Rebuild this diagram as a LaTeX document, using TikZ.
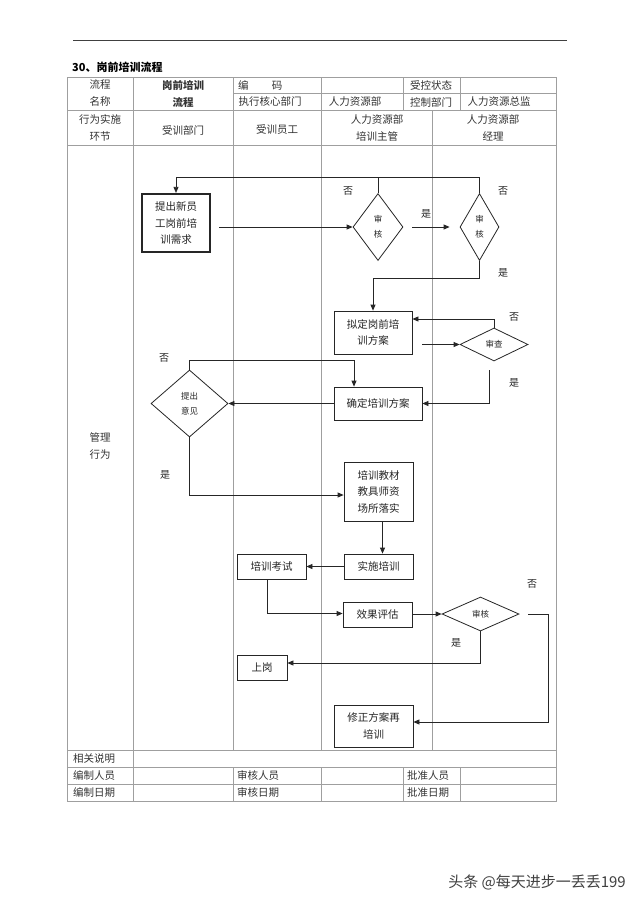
\documentclass[tikz,border=0pt]{standalone}
\usepackage{fontspec}
\setmainfont{Noto Sans CJK SC}
\usetikzlibrary{shapes.geometric,arrows.meta}
\begin{document}
\begin{tikzpicture}[x=1pt,y=-1pt,
  tbl/.style={draw=gray!75, line width=0.8pt},
  box/.style={draw=black!85, line width=0.8pt, inner sep=0pt, align=center, text=black!85, font=\fontsize{10.5}{16.5}\selectfont},
  dia/.style={diamond, draw=black!85, line width=0.8pt, inner sep=0pt, align=center, text=black!85, font=\fontsize{8.5}{15}\selectfont},
  arr/.style={draw=black!85, line width=0.8pt, -{Triangle[length=6pt,width=5pt]}},
  ln/.style={draw=black!85, line width=0.8pt},
  txt/.style={font=\fontsize{10.5}{17}\selectfont, text=black!80, inner sep=0pt, align=center},
  lbl/.style={font=\fontsize{10}{12}\selectfont, text=black!85, inner sep=0pt}
]
\useasboundingbox[fill=white] (0,0) rectangle (640,905);

% top rule and title
\draw[draw=black!75, line width=0.9pt] (73,40) -- (567,40);
\node[anchor=west, inner sep=0pt, font=\fontsize{11}{12}\selectfont\bfseries] (title) at (72,67) {30、岗前培训流程};

% table frame
\draw[tbl] (67,77) rectangle (556,801);
\draw[tbl] (233,93) -- (556,93);
\foreach \y in {110,145,750,767,784} \draw[tbl] (67,\y) -- (556,\y);
\draw[tbl] (133.5,77) -- (133.5,801);
\draw[tbl] (233,77) -- (233,750);
\draw[tbl] (233,767) -- (233,801);
\draw[tbl] (321.5,77) -- (321.5,750);
\draw[tbl] (321.5,767) -- (321.5,801);
\draw[tbl] (403,77) -- (403,110);
\draw[tbl] (403,767) -- (403,801);
\draw[tbl] (460,77) -- (460,110);
\draw[tbl] (460,767) -- (460,801);
\draw[tbl] (432,110) -- (432,750);

% header texts
\node[txt] (h1) at (100,93.5) {流程\\名称};
\node[txt, font=\fontsize{10.5}{17}\selectfont\bfseries] (h2) at (183,93.5) {岗前培训\\流程};
\node[txt, anchor=west] (h3) at (238,85) {编\hspace{2.2em}码};
\node[txt] (h4) at (431,85) {受控状态};
\node[txt] (h5) at (270,102) {执行核心部门};
\node[txt] (h6) at (355,102) {人力资源部};
\node[txt] (h7) at (431,102) {控制部门};
\node[txt] (h8) at (499,102) {人力资源总监};
\node[txt] (h9) at (100,128) {行为实施\\环节};
\node[txt] (h10) at (183,130) {受训部门};
\node[txt] (h11) at (277,130) {受训员工};
\node[txt] (h12) at (377,128) {人力资源部\\培训主管};
\node[txt] (h13) at (493,128) {人力资源部\\经理};
\node[txt] (h14) at (100,446) {管理\\行为};

% footer texts
\node[txt, anchor=west] (f1) at (73,758.5) {相关说明};
\node[txt, anchor=west] (f2) at (73,775.5) {编制人员};
\node[txt, anchor=west] (f3) at (73,792.5) {编制日期};
\node[txt, anchor=west] (f4) at (237,775.5) {审核人员};
\node[txt, anchor=west] (f5) at (237,792.5) {审核日期};
\node[txt, anchor=west] (f6) at (407,775.5) {批准人员};
\node[txt, anchor=west] (f7) at (407,792.5) {批准日期};

% flow nodes
\node[box, line width=2.2pt, minimum width=68pt, minimum height=58pt] (need) at (176,223) {提出新员\\工岗前培\\训需求};
\node[dia, minimum width=50pt, minimum height=67pt] (d1) at (378,227) {审\\核};
\node[dia, minimum width=39pt, minimum height=67pt] (d2) at (479.5,227) {审\\核};
\node[box, minimum width=78pt, minimum height=43pt] (plan) at (373,332.5) {拟定岗前培\\训方案};
\node[dia, minimum width=68pt, minimum height=33pt] (rev) at (494,344.5) {审查};
\node[box, minimum width=88pt, minimum height=33pt] (conf) at (378,403.5) {确定培训方案};
\node[dia, minimum width=77pt, minimum height=67pt] (op) at (189.5,403.5) {提出\\意见};
\node[box, minimum width=69pt, minimum height=59pt] (mat) at (378.5,491.5) {培训教材\\教具师资\\场所落实};
\node[box, minimum width=69pt, minimum height=25pt] (impl) at (378.5,566.5) {实施培训};
\node[box, minimum width=69pt, minimum height=25pt] (exam) at (271.5,566.5) {培训考试};
\node[box, minimum width=69pt, minimum height=25pt] (eval) at (377.5,615) {效果评估};
\node[dia, minimum width=77pt, minimum height=34pt] (chk) at (480.5,614) {审核};
\node[box, minimum width=50pt, minimum height=25pt] (post) at (262,667.5) {上岗};
\node[box, minimum width=79pt, minimum height=42pt] (redo) at (373.5,726) {修正方案再\\培训};

% connectors
\draw[arr] ([xshift=8pt]d1.west -| need.east) -- (d1.west);
\draw[arr] ([xshift=9pt]d1.east) -- ([xshift=-10pt]d2.west);
\draw[ln] (d1.north) -- ++(0,-16);
\draw[arr] (d2.north) -- ++(0,-16) -| (need.north);
\draw[arr] (d2.south) -- ++(0,17) -| (plan.north);
\draw[arr] ([xshift=10pt]rev.west -| plan.east) -- (rev.west);
\draw[arr] (rev.north) |- ([yshift=13.5pt]plan.east);
\draw[arr] ([xshift=-5pt,yshift=-9pt]rev.south) |- (conf.east);
\draw[arr] (conf.west) -- (op.east);
\draw[arr] (op.north) -- ++(0,-9) -| ([xshift=-24pt]conf.north);
\draw[arr] (op.south) |- ([yshift=-3.5pt]mat.west);
\draw[arr] ([xshift=4pt]mat.south) -- ([xshift=4pt]impl.north);
\draw[arr] (impl.west) -- (exam.east);
\draw[arr] ([xshift=-4.5pt]exam.south) |- ([yshift=1.5pt]eval.west);
\draw[arr] (eval.east |- chk.west) -- (chk.west);
\draw[arr] (chk.south) |- ([yshift=4.5pt]post.east);
\draw[arr] ([xshift=9pt]chk.east) -- ++(20,0) |- ([yshift=4pt]redo.east);

% branch labels
\node[lbl] (l1) at (348,191) {否};
\node[lbl] (l2) at (426,214) {是};
\node[lbl] (l3) at (503,191) {否};
\node[lbl] (l4) at (503,273) {是};
\node[lbl] (l5) at (514,317) {否};
\node[lbl] (l6) at (514,383) {是};
\node[lbl] (l7) at (164,358) {否};
\node[lbl] (l8) at (165,475) {是};
\node[lbl] (l9) at (532,584) {否};
\node[lbl] (l10) at (456,643) {是};

% watermark
\node[inner sep=0pt, anchor=east, text=black!75, font=\fontsize{15}{16}\selectfont] (wm) at (626,882) {头条 @每天进步一丢丢199};
\end{tikzpicture}
\end{document}
